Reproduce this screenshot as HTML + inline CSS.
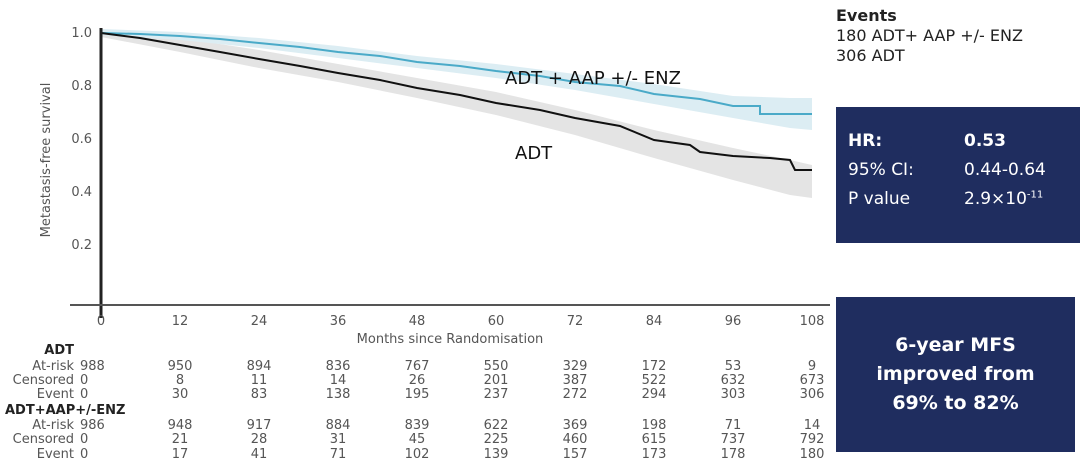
<!DOCTYPE html>
<html><head><style>
body{margin:0;width:1080px;height:473px;background:#fff;font-family:"DejaVu Sans","Liberation Sans",sans-serif;overflow:hidden;position:relative}
.t{position:absolute;font-size:13px;color:#333;white-space:nowrap}
.box{position:absolute;background:#1f2d5f;color:#fff}
</style></head><body>
<svg width="1080" height="473" style="position:absolute;left:0;top:0">
 <g font-family="DejaVu Sans,Liberation Sans,sans-serif" font-size="13" fill="#555">
  <text x="92" y="37" text-anchor="end">1.0</text>
  <text x="92" y="90" text-anchor="end">0.8</text>
  <text x="92" y="143" text-anchor="end">0.6</text>
  <text x="92" y="196" text-anchor="end">0.4</text>
  <text x="92" y="249" text-anchor="end">0.2</text>
  <text transform="translate(50,160) rotate(-90)" text-anchor="middle" font-size="13">Metastasis-free survival</text>
 </g>
 <!-- bands -->
 <polygon fill="#e4e4e4" points="101,30 180,38 259,50 338,64 417,78 496,92 575,110 654,130 733,148 790,160 812,165 812,198 790,195 733,180 654,158 575,135 496,115 417,98 338,82 259,68 180,52 101,37"/>
 <polygon fill="#dcedf3" points="101,29 180,32 259,38 338,46 417,56 496,64 575,74 654,84 733,96 790,98 812,98 812,130 790,128 733,118 654,104 575,90 496,78 417,68 338,58 259,48 180,40 101,35"/>
 <polyline fill="none" stroke="#4aaac8" stroke-width="2" points="101,33 140,34 180,36 220,39 259,43 300,47 338,52 380,56 417,62 460,66 496,71 540,76 575,82 620,86 654,94 700,99 733,106 760,106 760,114 812,114"/>
 <polyline fill="none" stroke="#111" stroke-width="2" points="101,33 140,38 180,45 220,52 259,59 300,66 338,73 380,80 417,88 460,95 496,103 540,110 575,118 620,126 654,140 690,145 700,152 733,156 770,158 790,160 795,170 812,170"/>
 <line x1="101" y1="28" x2="101" y2="318" stroke="#222" stroke-width="3"/>
 <line x1="70" y1="305" x2="830" y2="305" stroke="#555" stroke-width="2"/>
 <g font-family="DejaVu Sans,Liberation Sans,sans-serif" font-size="13" fill="#555" text-anchor="middle">
  <text x="101" y="325">0</text><text x="180" y="325">12</text><text x="259" y="325">24</text><text x="338" y="325">36</text><text x="417" y="325">48</text><text x="496" y="325">60</text><text x="575" y="325">72</text><text x="654" y="325">84</text><text x="733" y="325">96</text><text x="812" y="325">108</text>
  <text x="450" y="343">Months since Randomisation</text>
 </g>
 <g font-family="DejaVu Sans,Liberation Sans,sans-serif" font-size="18" fill="#111">
  <text x="505" y="84">ADT + AAP +/- ENZ</text>
  <text x="515" y="159">ADT</text>
 </g>
 <g font-family="DejaVu Sans,Liberation Sans,sans-serif" font-size="13" fill="#555">
  <text x="74" y="354" text-anchor="end" font-weight="bold" fill="#222">ADT</text>
  <text x="74" y="370" text-anchor="end">At-risk</text>
  <text x="74" y="384" text-anchor="end">Censored</text>
  <text x="74" y="398" text-anchor="end">Event</text>
  <text x="5" y="414" font-weight="bold" fill="#222">ADT+AAP+/-ENZ</text>
  <text x="74" y="429" text-anchor="end">At-risk</text>
  <text x="74" y="443" text-anchor="end">Censored</text>
  <text x="74" y="458" text-anchor="end">Event</text>
 </g>
 <g font-family="DejaVu Sans,Liberation Sans,sans-serif" font-size="13" fill="#555" text-anchor="middle" id="nums"></g>
</svg>
<div class="t" style="left:836px;top:6px;font-size:16px;font-weight:bold;color:#222">Events</div>
<div class="t" style="left:836px;top:26px;font-size:16px;color:#222">180 ADT+ AAP +/- ENZ</div>
<div class="t" style="left:836px;top:46px;font-size:16px;color:#222">306 ADT</div>
<div class="box" style="left:836px;top:107px;width:244px;height:136px">
 <div class="t" style="color:#fff;left:12px;top:24px;font-size:17px;font-weight:bold">HR:</div>
 <div class="t" style="color:#fff;left:128px;top:24px;font-size:17px;font-weight:bold">0.53</div>
 <div class="t" style="color:#fff;left:12px;top:53px;font-size:17px">95% CI:</div>
 <div class="t" style="color:#fff;left:128px;top:53px;font-size:17px">0.44-0.64</div>
 <div class="t" style="color:#fff;left:12px;top:82px;font-size:17px">P value</div>
 <div class="t" style="color:#fff;left:128px;top:82px;font-size:17px">2.9×10<sup style="font-size:10px">-11</sup></div>
</div>
<div class="box" style="left:836px;top:297px;width:239px;height:155px;display:flex;align-items:center;justify-content:center;text-align:center;font-weight:bold;font-size:19px;line-height:29px">6-year MFS<br>improved from<br>69% to 82%</div>
<script>
var rows=[[370,[988,950,894,836,767,550,329,172,53,9]],[384,[0,8,11,14,26,201,387,522,632,673]],[398,[0,30,83,138,195,237,272,294,303,306]],[429,[986,948,917,884,839,622,369,198,71,14]],[443,[0,21,28,31,45,225,460,615,737,792]],[458,[0,17,41,71,102,139,157,173,178,180]]];
var g=document.getElementById('nums'),s='';
rows.forEach(function(r){r[1].forEach(function(v,i){var x=i==0?80:180+79*(i-1);s+='<text x="'+x+'" y="'+r[0]+'"'+(i==0?' text-anchor="start"':'')+'>'+v+'</text>';});});
g.innerHTML=s;
</script>
</body></html>
